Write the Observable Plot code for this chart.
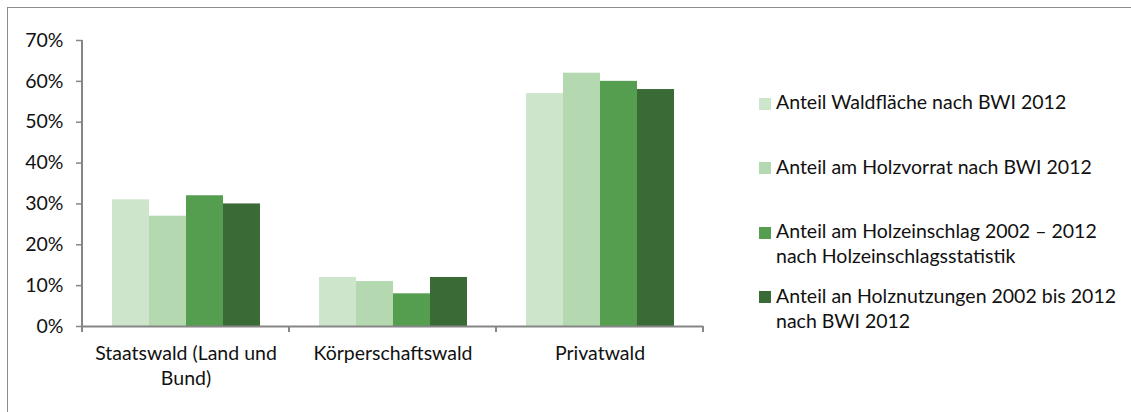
<!DOCTYPE html>
<html><head><meta charset="utf-8">
<script src="https://cdn.jsdelivr.net/npm/d3@7"></script>
<script src="https://cdn.jsdelivr.net/npm/@observablehq/plot@0.6"></script>
<style>
body{margin:0;background:#fff;font-family:Lato,sans-serif;}
#wrap{position:relative;width:1131px;height:412px;overflow:hidden;background:#fff;}
#border{position:absolute;left:7px;top:7px;width:1200px;height:500px;border-left:1.5px solid #8c8c8c;border-top:1.5px solid #8c8c8c;}
#chart{position:absolute;left:0;top:0;}
#legend{position:absolute;left:759px;top:89px;font-family:Lato,sans-serif;font-size:19.5px;color:#111;}
.item{display:flex;align-items:flex-start;height:64.67px;}
.sw{width:12px;height:12px;margin-top:8.5px;flex:none;}
.lab{margin-left:5px;line-height:25px;white-space:pre-line;}
</style></head>
<body><div id="wrap"><div id="border"></div><div id="chart"></div><div id="legend"></div></div>
<script>
const categories = ["Staatswald (Land und Bund)", "Körperschaftswald", "Privatwald"];
const categoryLabels = ["Staatswald (Land und\nBund)", "Körperschaftswald", "Privatwald"];
const seriesNames = [
  "Anteil Waldfläche nach BWI 2012",
  "Anteil am Holzvorrat nach BWI 2012",
  "Anteil am Holzeinschlag 2002 – 2012 nach Holzeinschlagsstatistik",
  "Anteil an Holznutzungen 2002 bis 2012 nach BWI 2012"
];
const seriesLabels = [
  "Anteil Waldfläche nach BWI 2012",
  "Anteil am Holzvorrat nach BWI 2012",
  "Anteil am Holzeinschlag 2002 – 2012\nnach Holzeinschlagsstatistik",
  "Anteil an Holznutzungen 2002 bis 2012\nnach BWI 2012"
];
const seriesColors = ["#cde5ca", "#b4d8b0", "#559e50", "#3a6b36"];
const waldflaeche   = [0.31, 0.12, 0.57];
const holzvorrat    = [0.27, 0.11, 0.62];
const holzeinschlag = [0.32, 0.08, 0.60];
const holznutzungen = [0.30, 0.12, 0.58];
const yTicks = [0, 0.1, 0.2, 0.3, 0.4, 0.5, 0.6, 0.7];

const seriesValues = [waldflaeche, holzvorrat, holzeinschlag, holznutzungen];
const rows = [];
categories.forEach((c, ci) => seriesNames.forEach((s, si) => rows.push({category: c, series: s, value: seriesValues[si][ci]})));

const axisColor = "#868686";
const chart = Plot.plot({
  width: 740, height: 412,
  marginLeft: 81, marginRight: 37, marginTop: 40, marginBottom: 86,
  style: {fontFamily: "Lato, sans-serif", fontSize: "19.5px", color: "#111", background: "transparent", overflow: "visible"},
  fx: {domain: categories, paddingInner: 0, paddingOuter: 0, label: null},
  x: {domain: seriesNames, paddingInner: 0, paddingOuter: 0.764, axis: null},
  y: {domain: [0, 0.7], axis: null},
  color: {domain: seriesNames, range: seriesColors},
  marks: [
    Plot.barY(rows, {fx: "category", x: "series", y: "value", fill: "series"}),
    Plot.ruleY([0], {stroke: axisColor, strokeWidth: 2}),
    Plot.axisY(yTicks, {anchor: "left", tickSize: 6, tickPadding: 13, tickFormat: d3.format(".0%"), stroke: axisColor, strokeWidth: 1.5, label: null}),
    Plot.axisFx({anchor: "bottom", tickSize: 0, tickPadding: 16, tickFormat: d => categoryLabels[categories.indexOf(d)], lineHeight: 1.28, label: null})
  ]
});

// y-axis line and category boundary ticks drawn from the chart's own scales
const fxScale = chart.scale("fx"), yScale = chart.scale("y");
const svg = d3.select(chart);
const y0 = yScale.apply(0), yTop = yScale.apply(yScale.domain[1]);
const g = svg.append("g").attr("stroke", axisColor).attr("stroke-width", 2).attr("fill", "none");
const xLeft = fxScale.apply(categories[0]);
g.append("path").attr("d", `M${xLeft},${yTop}V${y0 + 6}`);
categories.forEach(c => {
  const xr = fxScale.apply(c) + fxScale.bandwidth;
  g.append("path").attr("d", `M${xr},${y0}V${y0 + 6}`);
});
document.getElementById("chart").appendChild(chart);

// legend
const legend = d3.select("#legend");
seriesNames.forEach((s, i) => {
  const item = legend.append("div").attr("class", "item");
  item.append("div").attr("class", "sw").style("background", seriesColors[i]);
  item.append("div").attr("class", "lab").text(seriesLabels[i]);
});
</script>
</body></html>
